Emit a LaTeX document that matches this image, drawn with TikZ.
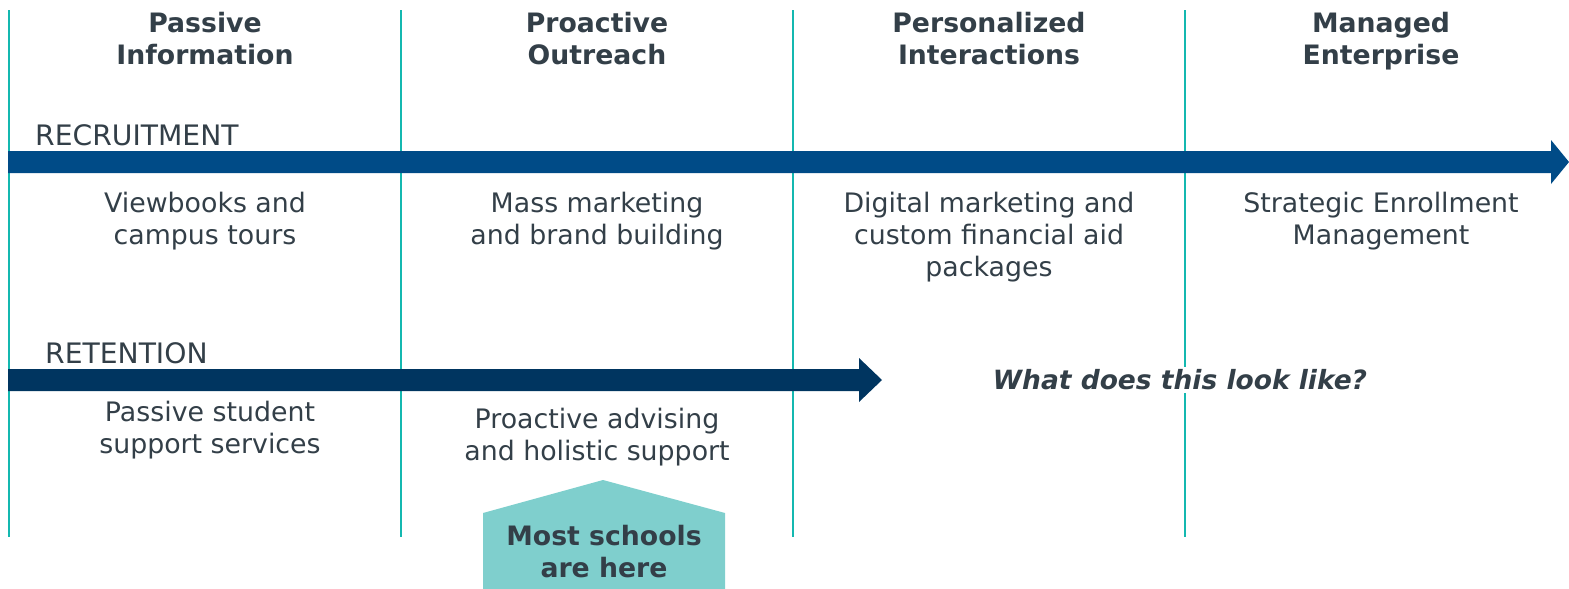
\documentclass[tikz,border=0pt]{standalone}
\usepackage{fontspec}
\setmainfont{DejaVu Sans}
\begin{document}
\begin{tikzpicture}[x=1pt,y=-1pt,
  txt/.style={text=txtc,align=center,inner sep=0pt,font=\fontsize{26.8}{32}\selectfont},
  head/.style={txt,font=\fontsize{26.7}{32}\selectfont\bfseries},
  lbl/.style={text=txtc,anchor=west,inner sep=0pt,font=\fontsize{28.2}{32}\selectfont},
  vline/.style={draw=tealc,line width=2pt}]
\definecolor{txtc}{RGB}{51,63,72}
\definecolor{tealc}{RGB}{20,184,176}
\definecolor{recc}{RGB}{0,75,135}
\definecolor{retc}{RGB}{0,53,96}
\definecolor{boxc}{RGB}{127,207,205}
\useasboundingbox (0,0) rectangle (1569,589);
% vertical lines
\foreach \x in {9,401,793,1185} \draw[vline] (\x,10) -- (\x,537);
% headers
\node[head] (h1) at (205,42) {\strut Passive\\\strut Information};
\node[head] (h2) at (597,42) {\strut Proactive\\\strut Outreach};
\node[head] (h3) at (989,42) {\strut Personalized\\\strut Interactions};
\node[head] (h4) at (1381,42) {\strut Managed\\\strut Enterprise};
% recruitment arrow
\node[lbl] (rec) at (35,135) {RECRUITMENT};
\fill[recc] (8,151) -- (1551,151) -- (1551,140) -- (1569,162) -- (1551,184) -- (1551,173) -- (8,173) -- cycle;
\node[txt] (r1) at (205,222) {\strut Viewbooks and\\\strut campus tours};
\node[txt] (r2) at (597,222) {\strut Mass marketing\\\strut and brand building};
\node[txt] (r3) at (989,238) {\strut Digital marketing and\\\strut custom financial aid\\\strut packages};
\node[txt] (r4) at (1381,222) {\strut Strategic Enrollment\\\strut Management};
% retention arrow
\node[lbl] (ret) at (45,353) {RETENTION};
\fill[retc] (8,369) -- (859,369) -- (859,358) -- (882,380) -- (859,402) -- (859,391) -- (8,391) -- cycle;
\node[txt] (t1) at (210,431) {\strut Passive student\\\strut support services};
\node[txt] (t2) at (597,438) {\strut Proactive advising\\\strut and holistic support};
\node[txt,fill=white,inner sep=3pt,font=\fontsize{26.5}{32}\selectfont\bfseries\itshape] (q) at (1180,380) {What does this look like?};
% most schools
\fill[boxc] (483,589) -- (483,513) -- (603,480) -- (725,513) -- (725,589) -- cycle;
\node[head] (ms) at (604,555) {\strut Most schools\\\strut are here};
\end{tikzpicture}
\end{document}
